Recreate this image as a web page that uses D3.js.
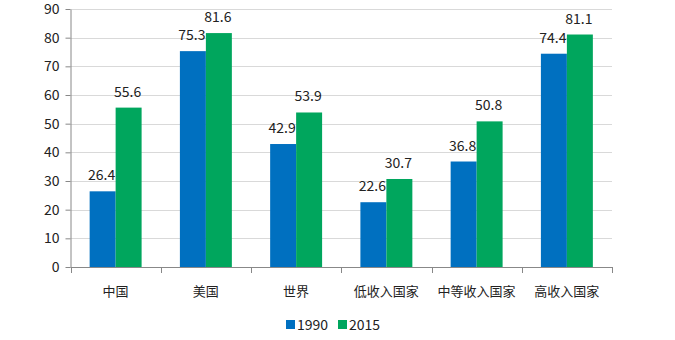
<!DOCTYPE html>
<html><head><meta charset="utf-8">
<script src="https://cdn.jsdelivr.net/npm/d3@7"></script>
<style>body{margin:0;background:#fff}svg{display:block}text{font-family:"Noto Sans CJK SC","Noto Sans",sans-serif}</style>
</head><body>
<script>
const categories = ["中国","美国","世界","低收入国家","中等收入国家","高收入国家"];
const seriesNames = ["1990","2015"];
const values1990 = [26.4,75.3,42.9,22.6,36.8,74.4];
const values2015 = [55.6,81.6,53.9,30.7,50.8,81.1];
const yTicks = [0,10,20,30,40,50,60,70,80,90];
const colors = ["#0070C0","#00A65D"];

const W=675,H=340;
const m={left:70.5,right:63,top:9,bottom:73};
const svg=d3.select("body").append("svg").attr("width",W).attr("height",H);
const x0=d3.scaleBand().domain(categories).range([m.left,W-m.right]).paddingInner(0).paddingOuter(0);
const x1=d3.scaleBand().domain(seriesNames).range([0,x0.bandwidth()]).paddingInner(0).paddingOuter(0.737);
const y=d3.scaleLinear().domain([0,90]).range([H-m.bottom,m.top]);

// gridlines
svg.append("g").selectAll("line").data(yTicks.filter(d=>d>0)).join("line")
  .attr("x1",m.left).attr("x2",W-m.right).attr("y1",d=>Math.round(y(d))+0.5).attr("y2",d=>Math.round(y(d))+0.5)
  .attr("stroke","#d9d9d9").attr("stroke-width",1);

// y axis
const ya=svg.append("g").attr("transform",`translate(${m.left},0)`)
  .call(d3.axisLeft(y).tickValues(yTicks).tickSize(5).tickSizeOuter(0).tickPadding(6));
ya.select(".domain").attr("stroke","#888");
ya.selectAll(".tick line").attr("stroke","#888");
ya.selectAll("text").attr("font-size",14).attr("fill","#222").attr("font-family","'Noto Sans',sans-serif");

const data=categories.map((c,i)=>({c,vals:[values1990[i],values2015[i]]}));
const g=svg.append("g");
const grp=g.selectAll("g").data(data).join("g").attr("transform",d=>`translate(${x0(d.c)},0)`);
grp.selectAll("rect").data(d=>d.vals.map((v,j)=>({s:seriesNames[j],v,j}))).join("rect")
  .attr("x",d=>x1(d.s)).attr("width",x1.bandwidth())
  .attr("y",d=>y(d.v)).attr("height",d=>y(0)-y(d.v)).attr("fill",d=>colors[d.j]);
grp.selectAll("text.lbl").data(d=>d.vals.map((v,j)=>({s:seriesNames[j],v,j}))).join("text")
  .attr("class","lbl").attr("x",d=>x1(d.s)+x1.bandwidth()/2-1).attr("y",d=>y(d.v)-11)
  .attr("text-anchor","middle").attr("font-size",14).attr("fill","#222")
  .attr("font-family","'Noto Sans',sans-serif").text(d=>d.v.toFixed(1));

// x axis
const xa=svg.append("g").attr("transform",`translate(0,${y(0)})`);
xa.append("line").attr("x1",m.left).attr("x2",W-m.right).attr("y1",0.5).attr("y2",0.5).attr("stroke","#888");
const bounds=categories.map(c=>x0(c)).concat([x0(categories[categories.length-1])+x0.bandwidth()]);
xa.selectAll("line.tk").data(bounds).join("line").attr("class","tk")
  .attr("x1",d=>Math.round(d)+0.5).attr("x2",d=>Math.round(d)+0.5).attr("y1",0).attr("y2",6).attr("stroke","#888");
xa.selectAll("text").data(categories).join("text")
  .attr("x",d=>x0(d)+x0.bandwidth()/2).attr("y",29).attr("text-anchor","middle")
  .attr("font-size",13).attr("fill","#222").text(d=>d);

// legend
const lg=svg.append("g").attr("transform","translate(286,324)");
seriesNames.forEach((s,i)=>{
  const off=i*52;
  lg.append("rect").attr("x",off).attr("y",-4).attr("width",9).attr("height",9).attr("fill",colors[i]);
  lg.append("text").attr("x",off+11).attr("y",5.5).attr("font-size",14).attr("fill","#222")
    .attr("font-family","'Noto Sans',sans-serif").text(s);
});
</script>
</body></html>
